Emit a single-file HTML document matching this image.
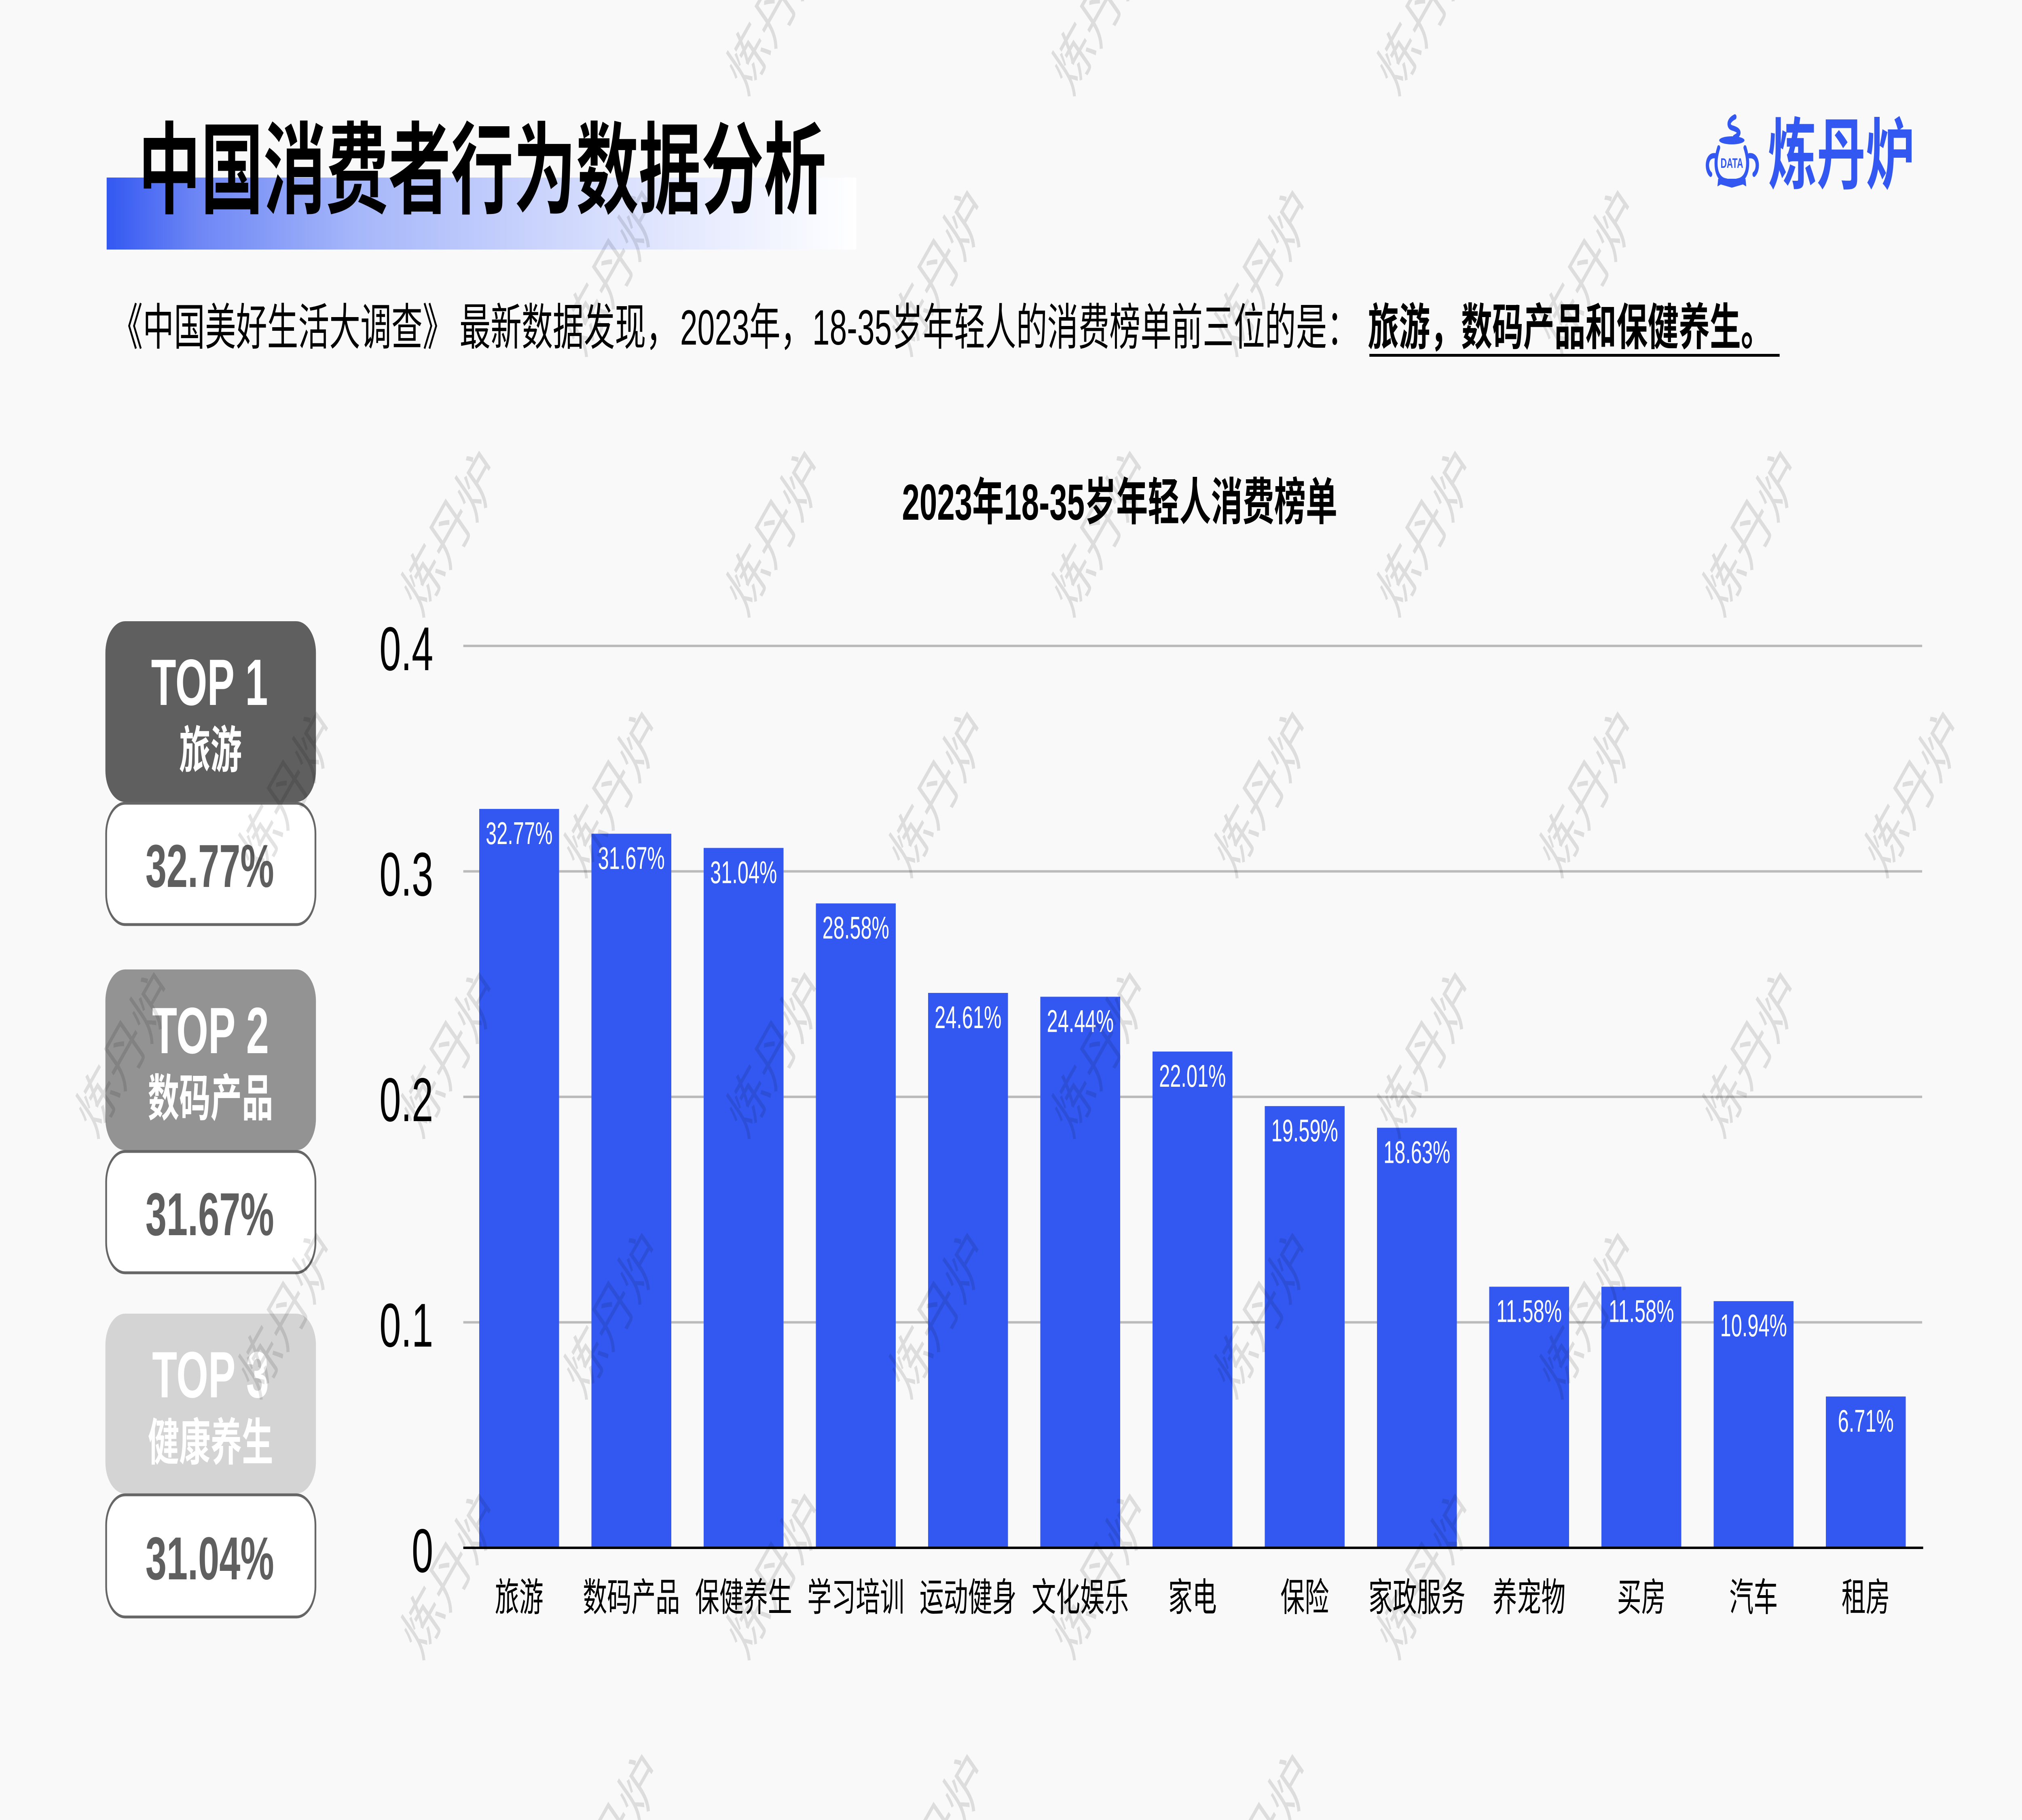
<!DOCTYPE html>
<html lang="zh">
<head>
<meta charset="utf-8">
<title>中国消费者行为数据分析</title>
<style>
html,body{margin:0;padding:0;background:#f9f9f9;width:100%;height:100%;overflow:hidden}
svg#root{display:block;width:100vw;height:100vh}
text{font-family:"Liberation Sans","Noto Sans CJK SC",sans-serif}
</style>
</head>
<body>
<svg id="root" xmlns="http://www.w3.org/2000/svg" viewBox="0 0 8000 4500" preserveAspectRatio="none">
  <defs>
    <linearGradient id="titleGrad" x1="0" x2="1" y1="0" y2="0">
      <stop offset="0" stop-color="#3358f2"/>
      <stop offset="0.12" stop-color="#6d86f5"/>
      <stop offset="0.33" stop-color="#a5b6fa"/>
      <stop offset="0.67" stop-color="#d8dffd"/>
      <stop offset="1" stop-color="#ffffff"/>
    </linearGradient>
  </defs>
  <rect x="0" y="0" width="8000" height="4500" fill="#f9f9f9"/>

  <rect x="422" y="439" width="2966" height="178" fill="url(#titleGrad)"/>
  <text x="547" y="508" font-size="247" font-weight="700" letter-spacing="0.5" fill="#000">中国消费者行为数据分析</text>

  <g>
    <g fill="none" stroke="#3358f2" stroke-linecap="round" stroke-linejoin="round">
      <path d="M6864 289 C6836 298 6836 312 6852 316 C6884 322 6890 330 6862 340" stroke-width="13"/>
      <ellipse cx="6852" cy="347" rx="50" ry="10" fill="#3358f2" stroke="none"/>
      <path d="M6800 365 C6780 405 6790 436 6818 445 C6838 450 6866 450 6886 445 C6914 436 6924 405 6904 365" stroke-width="12"/>
      <path d="M6786 385 C6750 382 6748 420 6768 431" stroke-width="13"/>
      <path d="M6921 385 C6958 382 6960 420 6940 431" stroke-width="13"/>
      <path d="M6798 442 L6795 461 L6808 456 L6852 464 L6896 456 L6909 461 L6906 442 Z" fill="#3358f2" stroke="none"/>
    </g>
    <text x="6852" y="415" font-size="34" font-weight="700" fill="#3358f2" text-anchor="middle">DATA</text>
    <text x="6995" y="451" font-size="193" font-weight="700" fill="#3358f2">炼丹炉</text>
  </g>

  <g font-size="123" fill="#000">
    <text x="442" y="852">《中国美好生活大调查》</text>
    <text x="1818" y="852">最新数据发现，</text>
    <text x="2691" y="852">2023年，</text>
    <text x="3214" y="852">18-35岁年轻人的消费榜单前三位的是：</text>
    <text x="5412" y="852" font-weight="700">旅游，数码产品和保健养生。</text>
    <rect x="5418" y="875" width="1623" height="7" fill="#000"/>
  </g>

  <text x="4430" y="1285" font-size="125" font-weight="700" fill="#000" text-anchor="middle">2023年18-35岁年轻人消费榜单</text>

  <g>
    <rect x="417" y="1536" width="833" height="447" rx="78" fill="#5f5f5f"/>
    <rect x="420" y="1986" width="828" height="300" rx="75" fill="#fff" stroke="#666" stroke-width="7"/>
    <text x="829" y="1743" font-size="162" font-weight="700" fill="#fff" text-anchor="middle">TOP 1</text>
    <text x="833" y="1898" font-size="124" font-weight="700" fill="#fff" text-anchor="middle">旅游</text>
    <text x="830" y="2193" font-size="150" font-weight="700" fill="#5f5f5f" text-anchor="middle">32.77%</text>
  </g>
  <g>
    <rect x="417" y="2397" width="833" height="447" rx="78" fill="#939393"/>
    <rect x="420" y="2847" width="828" height="300" rx="75" fill="#fff" stroke="#666" stroke-width="7"/>
    <text x="833" y="2604" font-size="162" font-weight="700" fill="#fff" text-anchor="middle">TOP 2</text>
    <text x="833" y="2759" font-size="124" font-weight="700" fill="#fff" text-anchor="middle">数码产品</text>
    <text x="830" y="3054" font-size="150" font-weight="700" fill="#5f5f5f" text-anchor="middle">31.67%</text>
  </g>
  <g>
    <rect x="417" y="3248" width="833" height="445" rx="78" fill="#d4d4d4"/>
    <rect x="420" y="3696" width="828" height="302" rx="75" fill="#fff" stroke="#666" stroke-width="7"/>
    <text x="833" y="3455" font-size="162" font-weight="700" fill="#fff" text-anchor="middle">TOP 3</text>
    <text x="833" y="3610" font-size="124" font-weight="700" fill="#fff" text-anchor="middle">健康养生</text>
    <text x="830" y="3905" font-size="150" font-weight="700" fill="#5f5f5f" text-anchor="middle">31.04%</text>
  </g>

  <g id="chart"></g>
  <g id="watermarks"></g>
</svg>

<script>
const categories = ["旅游","数码产品","保健养生","学习培训","运动健身","文化娱乐","家电","保险","家政服务","养宠物","买房","汽车","租房"];
const seriesValues = [0.3277,0.3167,0.3104,0.2858,0.2461,0.2444,0.2201,0.1959,0.1863,0.1158,0.1158,0.1094,0.0671];
const valueLabels = ["32.77%","31.67%","31.04%","28.58%","24.61%","24.44%","22.01%","19.59%","18.63%","11.58%","11.58%","10.94%","6.71%"];
const yTickValues = [0,0.1,0.2,0.3,0.4];
const yTickLabels = ["0","0.1","0.2","0.3","0.4"];

const SVGNS = "http://www.w3.org/2000/svg";
const chart = document.getElementById("chart");
const plotLeft = 1833, plotRight = 7605, baselineY = 3827, unitsPerValue = 5575;
const firstBarX = 1896, barPitch = 444, barWidth = 316;

function yScale(v){ return baselineY - v * unitsPerValue; }
function xBandStart(i){ return firstBarX + i * barPitch; }
function xBandCenter(i){ return xBandStart(i) + barWidth / 2; }
function make(tag, parent){
  const el = document.createElementNS(SVGNS, tag);
  parent.appendChild(el);
  return el;
}

yTickValues.forEach(function(v, i){
  if (v !== 0) {
    const grid = make("rect", chart);
    
    
    grid.setAttribute("x", plotLeft);
    grid.setAttribute("y", yScale(v) - 3);
    grid.setAttribute("width", plotRight - plotLeft);
    grid.setAttribute("height", 6);
    grid.setAttribute("fill", "#bbbbbb");
  }
  const tick = make("text", chart);
  
  
  tick.setAttribute("x", 1714);
  tick.setAttribute("y", yScale(v) + 60);
  tick.setAttribute("font-size", 153);
  tick.setAttribute("text-anchor", "end");
  tick.setAttribute("fill", "#000");
  tick.textContent = yTickLabels[i];
});

seriesValues.forEach(function(v, i){
  const bar = make("rect", chart);
  
  
  bar.setAttribute("x", xBandStart(i));
  bar.setAttribute("y", yScale(v));
  bar.setAttribute("width", barWidth);
  bar.setAttribute("height", baselineY - yScale(v));
  bar.setAttribute("fill", "#3358f2");

  const val = make("text", chart);
  
  
  val.setAttribute("x", xBandCenter(i));
  val.setAttribute("y", yScale(v) + 87);
  val.setAttribute("font-size", 78);
  val.setAttribute("text-anchor", "middle");
  val.setAttribute("fill", "#fff");
  val.textContent = valueLabels[i];

  const cat = make("text", chart);
  
  
  cat.setAttribute("x", xBandCenter(i));
  cat.setAttribute("y", 3983);
  cat.setAttribute("font-size", 96);
  cat.setAttribute("text-anchor", "middle");
  cat.setAttribute("fill", "#000");
  cat.textContent = categories[i];
});

const axisLine = make("rect", chart);


axisLine.setAttribute("x", plotLeft);
axisLine.setAttribute("y", baselineY - 3);
axisLine.setAttribute("width", 7609 - plotLeft);
axisLine.setAttribute("height", 6);
axisLine.setAttribute("fill", "#000");

const watermarkLayer = document.getElementById("watermarks");
const watermarkRows = [[4,6,8],[3,5,7,9],[2,4,6,8,10],[1,3,5,7,9,11],[0,2,4,6,8,10],[1,3,5,7,9],[2,4,6,8],[3,5,7]];
watermarkRows.forEach(function(cols, r){
  cols.forEach(function(k){
    const cx = 494 + k * 643.5;
    const cy = 26 + r * 644.5;
    const mark = make("text", watermarkLayer);
    
    
    mark.setAttribute("x", cx);
    mark.setAttribute("y", cy + 56);
    mark.setAttribute("font-size", 158);
    mark.setAttribute("text-anchor", "middle");
    mark.setAttribute("fill", "rgba(0,0,0,0.11)");
    mark.setAttribute("transform", "rotate(-48 " + cx + " " + cy + ")");
    mark.textContent = "炼丹炉";
  });
});
</script>
</body>
</html>
